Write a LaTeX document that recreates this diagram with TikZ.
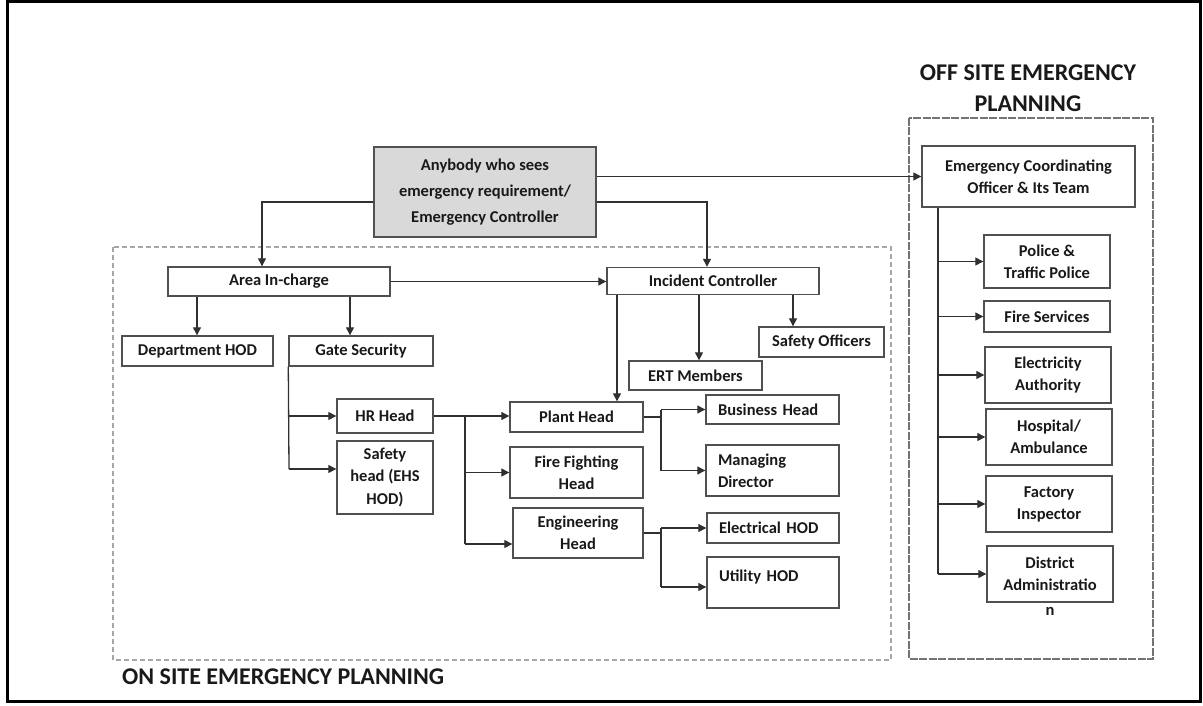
\documentclass[tikz,border=0pt]{standalone}
\usepackage{fontspec}
\setmainfont{Carlito}
\usetikzlibrary{arrows.meta}
\definecolor{topfill}{HTML}{D9D9D9}
\definecolor{boxline}{HTML}{505050}
\definecolor{conn}{HTML}{303030}
\tikzset{
  box/.style={draw=boxline, line width=1.4pt, inner sep=0pt, align=center, text=black!90,
    font=\fontsize{16.5}{22}\selectfont\bfseries},
  lbox/.style={box, align=left, inner xsep=12pt},
  ttl/.style={inner sep=0pt, align=center, text=black!90, font=\fontsize{24}{31}\selectfont\bfseries},
  arr/.style={draw=conn, line width=1.3pt, -{Triangle[length=8pt,width=8pt]}},
  ln/.style={draw=conn, line width=1.3pt},
  onsite/.style={draw=black!35, line width=1.1pt, dash pattern=on 5pt off 3pt},
  offsite/.style={draw=black!55, line width=1.4pt, dash pattern=on 8pt off 1.5pt},
}
\begin{document}
\begin{tikzpicture}[x=1pt,y=-1pt]
\useasboundingbox (0,0) rectangle (1203,706);
\draw[black, line width=3pt] (7,1.5) rectangle (1200.5,701.5);

% containers
\draw[onsite] (113,247) rectangle (891,660);
\draw[offsite] (909,118) rectangle (1153,659);

% titles
\node[ttl] (offt) at (1028,88) {OFF SITE EMERGENCY\\PLANNING};
\node[ttl, anchor=west] (ont) at (122,677) {ON SITE EMERGENCY PLANNING};

% nodes
\node[box, fill=topfill, minimum width=222pt, minimum height=90pt,
  font=\fontsize{16.5}{26}\selectfont\bfseries] (top) at (485,192)
  {Anybody who sees\\emergency requirement/\\Emergency Controller};
\node[box, minimum width=222pt, minimum height=29pt] (area) at (279,281.5) {Area In-charge};
\node[box, minimum width=212pt, minimum height=27pt] (inc) at (713,281) {Incident Controller};
\node[box, minimum width=151pt, minimum height=30pt] (dept) at (197.5,351) {Department HOD};
\node[box, minimum width=144pt, minimum height=30pt] (gate) at (361,351) {Gate Security};
\node[box, minimum width=125pt, minimum height=30pt] (safo) at (821.5,342) {Safety Officers};
\node[box, minimum width=133pt, minimum height=29pt] (ert) at (695.5,375.5) {ERT Members};
\node[box, minimum width=96pt, minimum height=34pt] (hr) at (385,416) {HR Head};
\node[box, minimum width=96pt, minimum height=73pt,
  font=\fontsize{16.5}{22.5}\selectfont\bfseries] (sh) at (385,477.5) {Safety\\head (EHS\\HOD)};
\node[box, minimum width=133pt, minimum height=30pt] (plant) at (576.5,417) {Plant Head};
\node[box, minimum width=133pt, minimum height=51pt] (fire) at (576.5,472.5) {Fire Fighting\\Head};
\node[box, minimum width=130pt, minimum height=50pt] (eng) at (578,533) {Engineering\\Head};
\node[lbox, text width=109pt, minimum height=29pt] (bus) at (772.5,409.5) {Business Head};
\node[lbox, text width=109pt, minimum height=51pt] (md) at (772.5,470.5) {Managing\\Director};
\node[lbox, text width=108pt, minimum height=30pt] (elec) at (773,528) {Electrical HOD};
\node[lbox, text width=108pt, minimum height=51pt, text depth=14pt] (util) at (773,582.5) {Utility HOD};

\begin{scope}[every node/.append style={font=\fontsize{16.5}{23}\selectfont\bfseries}]
\node[box, minimum width=213pt, minimum height=61pt] (eco) at (1028.5,176.5) {Emergency Coordinating\\Officer \& Its Team};
\node[box, minimum width=126pt, minimum height=53pt] (police) at (1047,261.5) {Police \&\\Traffic Police};
\node[box, minimum width=126pt, minimum height=31pt] (fires) at (1047,316.5) {Fire Services};
\node[box, minimum width=126pt, minimum height=56pt] (elecA) at (1048,375) {Electricity\\Authority};
\node[box, minimum width=126pt, minimum height=56pt] (hosp) at (1049,437) {Hospital/\\Ambulance};
\node[box, minimum width=126pt, minimum height=56pt] (fact) at (1049,504) {Factory\\Inspector};
\node[box, minimum width=126pt, minimum height=56pt] (dist) at (1050,574) {District\\Administratio};
\node[inner sep=0pt, text=black!90, anchor=center] (distn) at (1050,611) {n};
\end{scope}

% connectors from top box
\coordinate (jA) at (262,202);
\coordinate (jB) at (707,202);
\draw[arr] (top.west |- jA) -- (jA) -- (jA |- area.north);
\draw[arr] (top.east |- jB) -- (jB) -- (jB |- inc.north);
\draw[arr] (top.east |- eco.west) -- (eco.west);

% area in-charge
\coordinate (a1) at (197,0);
\coordinate (a2) at (350,0);
\draw[arr] (area.east) -- (area.east -| inc.west);
\draw[arr] (area.south -| a1) -- (dept.north -| a1);
\draw[arr] (area.south -| a2) -- (gate.north -| a2);

% incident controller
\coordinate (i1) at (617,0);
\coordinate (i2) at (699,0);
\coordinate (i3) at (793,0);
\draw[arr] (inc.south -| i1) -- (plant.north -| i1);
\draw[arr] (inc.south -| i2) -- (ert.north -| i2);
\draw[arr] (inc.south -| i3) -- (safo.north -| i3);

% gate security
\coordinate (g2) at (289,469);
\draw[ln] (gate.south west) -- (g2);
\draw[arr] (gate.south west |- hr.west) -- (hr.west);
\draw[arr] (g2) -- (g2 -| sh.west);

% HR head
\coordinate (h2) at (465,0);
\coordinate (engA) at ([yshift=-11pt]eng.west);
\draw[arr] (hr.east) -- (hr.east -| plant.west);
\draw[ln] (hr.east -| h2) -- (h2 |- engA);
\draw[arr] (h2 |- fire.west) -- (fire.west);
\draw[arr] (h2 |- engA) -- (engA);

% plant head and engineering head
\coordinate (p2) at (661,0);
\coordinate (utA) at ([yshift=-4.5pt]util.west);
\draw[ln] (plant.east) -- (plant.east -| p2);
\draw[ln] (p2 |- bus.west) -- (p2 |- md.west);
\draw[arr] (p2 |- bus.west) -- (bus.west);
\draw[arr] (p2 |- md.west) -- (md.west);
\draw[ln] (eng.east) -- (eng.east -| p2);
\draw[ln] (p2 |- elec.west) -- (p2 |- utA);
\draw[arr] (p2 |- elec.west) -- (elec.west);
\draw[arr] (p2 |- utA) -- (utA);

% off site
\coordinate (v) at (938,0);
\draw[ln] (eco.south -| v) -- (v |- dist.west);
\foreach \n in {police,fires,elecA,hosp,fact,dist}
  \draw[arr] (v |- \n.west) -- (\n.west);
\end{tikzpicture}
\end{document}
